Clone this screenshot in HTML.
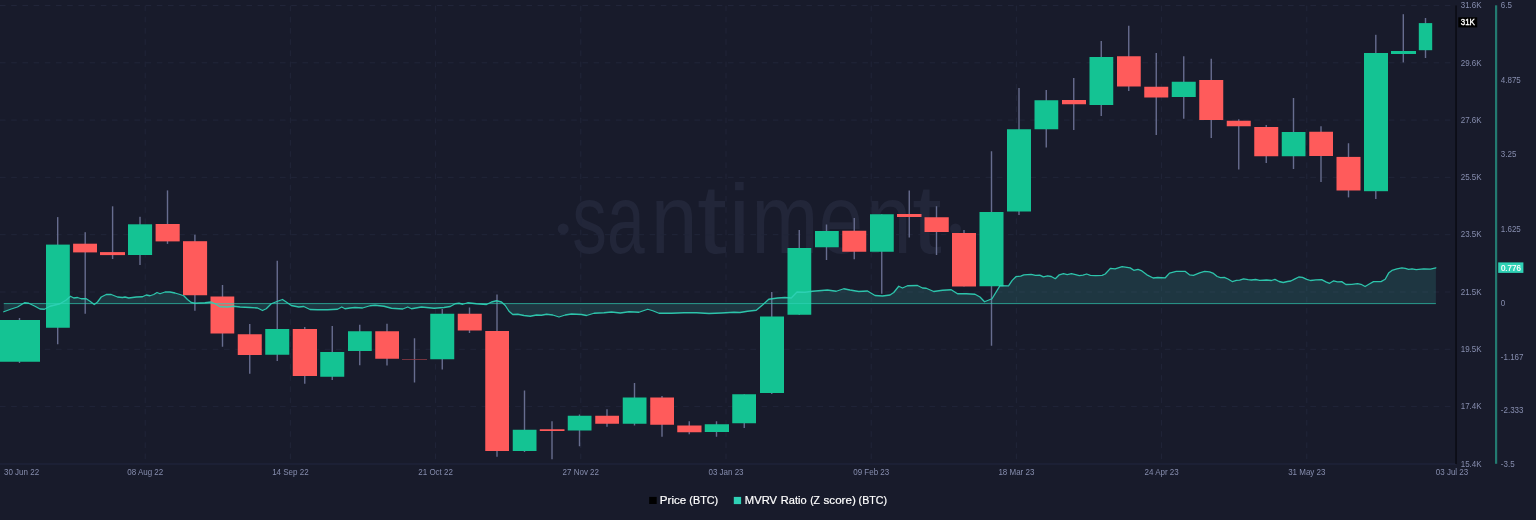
<!DOCTYPE html>
<html lang="en">
<head>
<meta charset="utf-8">
<title>Price (BTC) / MVRV Ratio (Z score) (BTC)</title>
<style>
html,body{margin:0;padding:0;background:#181b2b;}
body{width:1536px;height:520px;overflow:hidden;font-family:"Liberation Sans",sans-serif;}
svg{display:block;}
svg text{font-family:"Liberation Sans",sans-serif;}
.ax{font-size:8px;fill:#868dae;}
.lg{font-size:11px;fill:#ffffff;stroke:#ffffff;stroke-width:0.2px;}
</style>
</head>
<body>
<svg width="1536" height="520" viewBox="0 0 1536 520">
<rect x="0" y="0" width="1536" height="520" fill="#181b2b"/>

<g id="watermark" fill="#222639">
<circle cx="563.2" cy="228.9" r="5.5"/>
<text transform="translate(572.27 253.2) scale(0.7032 1)" font-size="98.5">s</text>
<text transform="translate(606.92 253.2) scale(0.6878 1)" font-size="98.5">a</text>
<text transform="translate(650.82 253.2) scale(0.8532 1)" font-size="98.5">n</text>
<text transform="translate(696.88 253.2) scale(1.0893 1)" font-size="98.5">t</text>
<text transform="translate(728.45 253.2) scale(0.9934 1)" font-size="98.5">i</text>
<text transform="translate(751.57 253.2) scale(0.8143 1)" font-size="98.5">m</text>
<text transform="translate(818.81 253.2) scale(0.8113 1)" font-size="98.5">e</text>
<text transform="translate(866.06 253.2) scale(0.8317 1)" font-size="98.5">n</text>
<text transform="translate(911.98 253.2) scale(1.0893 1)" font-size="98.5">t</text>
<circle cx="955.5" cy="228.9" r="5.5"/>
</g>

<g id="grid" stroke="#212539" stroke-width="1" stroke-dasharray="5.6 5.6" fill="none">
<path d="M0 5.50 H1452"/>
<path d="M0 62.80 H1452"/>
<path d="M0 120.10 H1452"/>
<path d="M0 177.40 H1452"/>
<path d="M0 234.70 H1452"/>
<path d="M0 292.00 H1452"/>
<path d="M0 349.30 H1452"/>
<path d="M0 406.60 H1452"/>
<path d="M145.20 5.6 V463.5"/>
<path d="M290.40 5.6 V463.5"/>
<path d="M435.60 5.6 V463.5"/>
<path d="M580.80 5.6 V463.5"/>
<path d="M726.00 5.6 V463.5"/>
<path d="M871.20 5.6 V463.5"/>
<path d="M1016.40 5.6 V463.5"/>
<path d="M1161.60 5.6 V463.5"/>
<path d="M1306.80 5.6 V463.5"/>
</g>

<rect x="0" y="463" width="1456" height="2" fill="#1c2035"/>
<g id="wicks" fill="#676d8f">
<rect x="18.80" y="318.00" width="1.4" height="45.00"/>
<rect x="57.00" y="217.10" width="1.4" height="127.15"/>
<rect x="84.50" y="232.20" width="1.4" height="81.55"/>
<rect x="111.90" y="206.30" width="1.4" height="52.70"/>
<rect x="139.30" y="216.80" width="1.4" height="48.20"/>
<rect x="166.80" y="190.40" width="1.4" height="53.50"/>
<rect x="194.20" y="234.70" width="1.4" height="76.05"/>
<rect x="221.80" y="285.00" width="1.4" height="61.75"/>
<rect x="249.05" y="324.00" width="1.4" height="49.75"/>
<rect x="276.55" y="260.75" width="1.4" height="100.25"/>
<rect x="304.05" y="327.00" width="1.4" height="56.75"/>
<rect x="331.55" y="326.00" width="1.4" height="54.00"/>
<rect x="359.05" y="324.75" width="1.4" height="40.50"/>
<rect x="386.30" y="323.75" width="1.4" height="41.75"/>
<rect x="413.80" y="338.25" width="1.4" height="44.25"/>
<rect x="441.55" y="309.00" width="1.4" height="60.50"/>
<rect x="468.80" y="307.50" width="1.4" height="25.50"/>
<rect x="496.30" y="294.50" width="1.4" height="162.25"/>
<rect x="523.80" y="390.50" width="1.4" height="61.50"/>
<rect x="551.30" y="421.25" width="1.4" height="38.00"/>
<rect x="578.80" y="414.50" width="1.4" height="31.75"/>
<rect x="606.30" y="409.25" width="1.4" height="17.50"/>
<rect x="633.80" y="383.00" width="1.4" height="42.50"/>
<rect x="661.30" y="396.00" width="1.4" height="40.75"/>
<rect x="688.55" y="421.25" width="1.4" height="13.00"/>
<rect x="715.80" y="421.25" width="1.4" height="15.50"/>
<rect x="743.55" y="394.25" width="1.4" height="33.75"/>
<rect x="771.05" y="292.00" width="1.4" height="102.00"/>
<rect x="798.55" y="230.00" width="1.4" height="85.00"/>
<rect x="825.80" y="224.50" width="1.4" height="35.50"/>
<rect x="853.55" y="218.00" width="1.4" height="41.25"/>
<rect x="881.05" y="214.25" width="1.4" height="79.50"/>
<rect x="908.55" y="190.50" width="1.4" height="47.00"/>
<rect x="935.80" y="206.25" width="1.4" height="48.75"/>
<rect x="963.30" y="230.00" width="1.4" height="56.50"/>
<rect x="990.80" y="151.25" width="1.4" height="194.50"/>
<rect x="1018.30" y="88.00" width="1.4" height="127.00"/>
<rect x="1045.55" y="90.00" width="1.4" height="57.50"/>
<rect x="1073.05" y="78.00" width="1.4" height="52.00"/>
<rect x="1100.55" y="41.00" width="1.4" height="75.00"/>
<rect x="1128.05" y="25.75" width="1.4" height="65.25"/>
<rect x="1155.55" y="53.00" width="1.4" height="82.00"/>
<rect x="1183.05" y="56.25" width="1.4" height="62.50"/>
<rect x="1210.55" y="58.75" width="1.4" height="79.25"/>
<rect x="1238.05" y="119.25" width="1.4" height="50.25"/>
<rect x="1265.55" y="125.00" width="1.4" height="38.00"/>
<rect x="1292.80" y="98.00" width="1.4" height="71.00"/>
<rect x="1320.30" y="126.25" width="1.4" height="55.75"/>
<rect x="1347.80" y="143.25" width="1.4" height="54.15"/>
<rect x="1375.10" y="34.80" width="1.4" height="164.20"/>
<rect x="1402.60" y="14.20" width="1.4" height="48.20"/>
<rect x="1424.80" y="18.00" width="1.4" height="40.00"/>
</g>
<g id="bodies">
<rect x="0.00" y="320.00" width="40.00" height="41.75" fill="#14c393"/>
<rect x="46.00" y="244.60" width="23.80" height="83.15" fill="#14c393"/>
<rect x="73.10" y="243.70" width="23.90" height="8.70" fill="#ff5b5b"/>
<rect x="100.00" y="252.10" width="25.00" height="3.00" fill="#ff5b5b"/>
<rect x="128.00" y="224.30" width="24.10" height="30.70" fill="#14c393"/>
<rect x="155.60" y="224.00" width="24.10" height="17.40" fill="#ff5b5b"/>
<rect x="183.00" y="241.20" width="24.10" height="54.05" fill="#ff5b5b"/>
<rect x="210.50" y="296.50" width="23.75" height="37.00" fill="#ff5b5b"/>
<rect x="237.75" y="334.25" width="24.00" height="20.75" fill="#ff5b5b"/>
<rect x="265.25" y="329.00" width="24.00" height="25.75" fill="#14c393"/>
<rect x="292.75" y="329.00" width="24.25" height="47.00" fill="#ff5b5b"/>
<rect x="320.25" y="352.00" width="24.00" height="24.75" fill="#14c393"/>
<rect x="348.00" y="331.25" width="23.75" height="19.75" fill="#14c393"/>
<rect x="375.25" y="331.25" width="23.75" height="27.50" fill="#ff5b5b"/>
<rect x="402.00" y="359.00" width="25.00" height="0.80" fill="#8c3a44"/>
<rect x="430.25" y="313.75" width="24.00" height="45.50" fill="#14c393"/>
<rect x="457.75" y="313.75" width="24.00" height="16.75" fill="#ff5b5b"/>
<rect x="485.25" y="331.00" width="23.75" height="120.00" fill="#ff5b5b"/>
<rect x="512.75" y="429.75" width="23.75" height="21.25" fill="#14c393"/>
<rect x="539.75" y="429.25" width="24.75" height="1.75" fill="#ff5b5b"/>
<rect x="567.75" y="415.75" width="23.75" height="14.75" fill="#14c393"/>
<rect x="595.25" y="415.75" width="23.75" height="8.00" fill="#ff5b5b"/>
<rect x="622.75" y="397.50" width="23.75" height="26.25" fill="#14c393"/>
<rect x="650.25" y="397.50" width="23.75" height="27.25" fill="#ff5b5b"/>
<rect x="677.25" y="425.50" width="24.25" height="6.75" fill="#ff5b5b"/>
<rect x="704.75" y="424.25" width="24.25" height="7.75" fill="#14c393"/>
<rect x="732.25" y="394.25" width="23.75" height="29.00" fill="#14c393"/>
<rect x="760.00" y="316.50" width="24.00" height="76.50" fill="#14c393"/>
<rect x="787.50" y="248.00" width="23.75" height="66.75" fill="#14c393"/>
<rect x="815.00" y="231.00" width="23.75" height="16.25" fill="#14c393"/>
<rect x="842.25" y="230.75" width="24.00" height="21.00" fill="#ff5b5b"/>
<rect x="870.00" y="214.25" width="23.75" height="37.50" fill="#14c393"/>
<rect x="897.00" y="214.00" width="24.50" height="3.00" fill="#ff5b5b"/>
<rect x="924.50" y="217.25" width="24.25" height="14.75" fill="#ff5b5b"/>
<rect x="952.00" y="233.00" width="24.00" height="53.50" fill="#ff5b5b"/>
<rect x="979.50" y="212.00" width="24.00" height="74.25" fill="#14c393"/>
<rect x="1007.00" y="129.25" width="24.00" height="82.25" fill="#14c393"/>
<rect x="1034.50" y="100.25" width="23.75" height="29.00" fill="#14c393"/>
<rect x="1062.00" y="100.00" width="24.00" height="4.25" fill="#ff5b5b"/>
<rect x="1089.50" y="57.00" width="23.75" height="48.00" fill="#14c393"/>
<rect x="1117.00" y="56.25" width="23.75" height="30.25" fill="#ff5b5b"/>
<rect x="1144.25" y="86.75" width="24.00" height="10.75" fill="#ff5b5b"/>
<rect x="1171.75" y="81.75" width="24.00" height="15.25" fill="#14c393"/>
<rect x="1199.25" y="80.00" width="24.00" height="40.00" fill="#ff5b5b"/>
<rect x="1226.75" y="120.75" width="24.00" height="5.50" fill="#ff5b5b"/>
<rect x="1254.25" y="127.00" width="24.00" height="29.25" fill="#ff5b5b"/>
<rect x="1281.75" y="132.00" width="23.75" height="24.25" fill="#14c393"/>
<rect x="1309.25" y="131.75" width="23.75" height="24.25" fill="#ff5b5b"/>
<rect x="1336.50" y="156.90" width="24.00" height="33.60" fill="#ff5b5b"/>
<rect x="1364.00" y="53.00" width="24.00" height="138.20" fill="#14c393"/>
<rect x="1391.00" y="51.00" width="25.00" height="3.00" fill="#14c393"/>
<rect x="1418.80" y="23.10" width="13.40" height="27.10" fill="#14c393"/>
</g>

<g id="mvrv">
<polygon points="3.75,303.60 3.75,311.75 11.25,309.00 17.50,307.00 24.50,302.75 28.75,303.25 35.00,306.25 40.00,309.00 44.50,309.25 50.00,306.25 60.00,303.75 66.25,300.00 70.50,296.25 73.75,298.00 77.50,297.50 81.25,298.75 86.25,298.75 90.00,301.25 94.25,304.50 97.50,302.00 101.25,297.00 106.25,294.50 111.25,294.50 117.50,297.00 122.50,297.50 125.00,297.00 128.75,298.00 136.25,297.00 142.50,296.75 146.25,295.00 150.00,295.75 153.75,294.50 157.00,292.50 160.00,293.75 165.00,292.00 170.00,292.00 175.00,293.00 180.00,294.50 183.75,295.75 187.50,299.50 191.25,302.50 195.00,303.25 205.00,302.75 211.25,302.00 215.00,303.75 220.00,306.75 227.50,307.00 233.75,306.25 240.00,307.00 250.00,307.50 257.50,308.00 262.50,310.50 266.25,308.75 271.25,303.75 277.50,301.25 282.50,299.50 286.25,302.00 291.25,305.50 298.75,307.00 303.75,306.50 310.00,309.50 317.50,309.75 327.50,309.75 337.50,309.25 341.75,307.00 345.00,308.75 350.00,308.00 355.00,307.50 362.50,308.00 370.00,305.75 375.00,305.25 384.00,306.25 391.50,308.25 402.75,309.00 407.75,307.00 411.50,308.75 421.50,307.00 434.00,308.25 444.00,307.50 450.25,306.50 455.25,303.75 459.00,303.25 462.75,304.25 467.75,302.75 476.50,303.75 486.50,304.50 491.50,302.00 496.50,300.75 501.50,302.00 505.25,305.50 509.00,311.25 512.75,314.50 517.75,314.25 524.00,315.50 530.25,316.25 536.50,315.00 541.50,315.25 546.50,314.25 552.75,315.00 559.00,317.00 565.25,315.00 571.50,314.00 581.50,314.50 586.50,315.50 594.00,313.25 604.00,312.75 611.50,312.00 620.25,313.00 629.00,311.75 639.00,312.25 647.75,309.25 652.75,310.75 659.00,313.25 671.50,313.25 684.00,312.75 696.50,312.75 709.00,313.50 721.50,313.00 734.00,312.25 740.00,312.50 747.50,311.25 756.25,310.25 762.50,305.00 768.75,299.25 777.50,298.00 785.00,297.50 791.25,298.00 797.00,292.00 805.00,292.25 812.50,291.25 827.50,290.00 836.25,291.25 843.75,288.75 850.00,290.00 858.75,291.50 867.50,291.00 875.00,295.50 882.50,296.00 890.00,295.00 893.75,292.50 898.75,286.25 902.50,288.00 907.50,285.75 917.50,285.50 922.50,288.00 926.25,288.25 933.75,291.50 942.50,290.25 951.25,289.75 957.50,293.75 966.25,293.75 975.00,294.25 980.00,297.00 984.50,301.75 992.00,298.75 1000.00,285.70 1008.50,285.90 1012.20,280.40 1015.90,276.70 1020.70,276.10 1023.80,274.90 1031.20,274.30 1035.50,275.30 1039.70,275.10 1043.40,276.90 1047.60,275.80 1051.30,276.50 1055.30,278.70 1059.30,274.80 1063.50,273.70 1067.20,274.60 1071.40,273.60 1075.60,274.60 1079.30,275.60 1083.00,275.10 1086.70,274.00 1090.40,275.30 1095.70,275.60 1102.10,275.40 1105.20,274.00 1110.40,268.40 1115.10,268.80 1122.10,266.70 1130.20,267.90 1133.80,270.30 1138.00,269.40 1141.90,270.90 1146.90,274.80 1153.20,278.00 1157.80,277.50 1165.30,277.80 1169.50,273.10 1176.20,271.40 1185.00,271.30 1189.50,274.80 1193.40,275.30 1199.60,272.80 1204.60,271.40 1209.60,271.90 1213.50,273.40 1217.20,276.50 1220.50,277.60 1224.30,277.30 1228.00,279.00 1232.20,281.50 1236.40,280.30 1239.70,280.10 1243.60,278.80 1248.10,279.60 1251.50,280.00 1255.60,279.50 1259.80,280.30 1266.50,280.00 1271.50,280.50 1274.90,279.30 1279.10,281.50 1283.20,282.50 1287.40,281.50 1290.80,281.00 1295.00,278.80 1298.80,277.00 1302.50,277.30 1306.70,279.30 1310.50,280.50 1315.90,279.80 1321.70,279.60 1325.90,281.80 1329.60,283.30 1333.70,280.80 1337.50,281.80 1341.70,281.60 1345.90,284.50 1351.70,284.30 1357.60,283.60 1361.00,284.30 1365.10,286.50 1369.30,284.00 1373.50,281.60 1381.00,281.60 1385.20,279.30 1388.60,273.10 1391.90,270.40 1396.90,268.90 1401.90,267.90 1405.30,268.30 1408.60,269.40 1412.00,268.80 1416.20,269.60 1423.70,268.80 1430.40,269.10 1435.90,267.80 1435.90,303.60" fill="#40beb4" fill-opacity="0.17"/>
<path d="M3.75 303.60 H1435.90" stroke="#2fd1b5" stroke-opacity="0.68" stroke-width="1" fill="none"/>
<polyline points="3.75,311.75 11.25,309.00 17.50,307.00 24.50,302.75 28.75,303.25 35.00,306.25 40.00,309.00 44.50,309.25 50.00,306.25 60.00,303.75 66.25,300.00 70.50,296.25 73.75,298.00 77.50,297.50 81.25,298.75 86.25,298.75 90.00,301.25 94.25,304.50 97.50,302.00 101.25,297.00 106.25,294.50 111.25,294.50 117.50,297.00 122.50,297.50 125.00,297.00 128.75,298.00 136.25,297.00 142.50,296.75 146.25,295.00 150.00,295.75 153.75,294.50 157.00,292.50 160.00,293.75 165.00,292.00 170.00,292.00 175.00,293.00 180.00,294.50 183.75,295.75 187.50,299.50 191.25,302.50 195.00,303.25 205.00,302.75 211.25,302.00 215.00,303.75 220.00,306.75 227.50,307.00 233.75,306.25 240.00,307.00 250.00,307.50 257.50,308.00 262.50,310.50 266.25,308.75 271.25,303.75 277.50,301.25 282.50,299.50 286.25,302.00 291.25,305.50 298.75,307.00 303.75,306.50 310.00,309.50 317.50,309.75 327.50,309.75 337.50,309.25 341.75,307.00 345.00,308.75 350.00,308.00 355.00,307.50 362.50,308.00 370.00,305.75 375.00,305.25 384.00,306.25 391.50,308.25 402.75,309.00 407.75,307.00 411.50,308.75 421.50,307.00 434.00,308.25 444.00,307.50 450.25,306.50 455.25,303.75 459.00,303.25 462.75,304.25 467.75,302.75 476.50,303.75 486.50,304.50 491.50,302.00 496.50,300.75 501.50,302.00 505.25,305.50 509.00,311.25 512.75,314.50 517.75,314.25 524.00,315.50 530.25,316.25 536.50,315.00 541.50,315.25 546.50,314.25 552.75,315.00 559.00,317.00 565.25,315.00 571.50,314.00 581.50,314.50 586.50,315.50 594.00,313.25 604.00,312.75 611.50,312.00 620.25,313.00 629.00,311.75 639.00,312.25 647.75,309.25 652.75,310.75 659.00,313.25 671.50,313.25 684.00,312.75 696.50,312.75 709.00,313.50 721.50,313.00 734.00,312.25 740.00,312.50 747.50,311.25 756.25,310.25 762.50,305.00 768.75,299.25 777.50,298.00 785.00,297.50 791.25,298.00 797.00,292.00 805.00,292.25 812.50,291.25 827.50,290.00 836.25,291.25 843.75,288.75 850.00,290.00 858.75,291.50 867.50,291.00 875.00,295.50 882.50,296.00 890.00,295.00 893.75,292.50 898.75,286.25 902.50,288.00 907.50,285.75 917.50,285.50 922.50,288.00 926.25,288.25 933.75,291.50 942.50,290.25 951.25,289.75 957.50,293.75 966.25,293.75 975.00,294.25 980.00,297.00 984.50,301.75 992.00,298.75 1000.00,285.70 1008.50,285.90 1012.20,280.40 1015.90,276.70 1020.70,276.10 1023.80,274.90 1031.20,274.30 1035.50,275.30 1039.70,275.10 1043.40,276.90 1047.60,275.80 1051.30,276.50 1055.30,278.70 1059.30,274.80 1063.50,273.70 1067.20,274.60 1071.40,273.60 1075.60,274.60 1079.30,275.60 1083.00,275.10 1086.70,274.00 1090.40,275.30 1095.70,275.60 1102.10,275.40 1105.20,274.00 1110.40,268.40 1115.10,268.80 1122.10,266.70 1130.20,267.90 1133.80,270.30 1138.00,269.40 1141.90,270.90 1146.90,274.80 1153.20,278.00 1157.80,277.50 1165.30,277.80 1169.50,273.10 1176.20,271.40 1185.00,271.30 1189.50,274.80 1193.40,275.30 1199.60,272.80 1204.60,271.40 1209.60,271.90 1213.50,273.40 1217.20,276.50 1220.50,277.60 1224.30,277.30 1228.00,279.00 1232.20,281.50 1236.40,280.30 1239.70,280.10 1243.60,278.80 1248.10,279.60 1251.50,280.00 1255.60,279.50 1259.80,280.30 1266.50,280.00 1271.50,280.50 1274.90,279.30 1279.10,281.50 1283.20,282.50 1287.40,281.50 1290.80,281.00 1295.00,278.80 1298.80,277.00 1302.50,277.30 1306.70,279.30 1310.50,280.50 1315.90,279.80 1321.70,279.60 1325.90,281.80 1329.60,283.30 1333.70,280.80 1337.50,281.80 1341.70,281.60 1345.90,284.50 1351.70,284.30 1357.60,283.60 1361.00,284.30 1365.10,286.50 1369.30,284.00 1373.50,281.60 1381.00,281.60 1385.20,279.30 1388.60,273.10 1391.90,270.40 1396.90,268.90 1401.90,267.90 1405.30,268.30 1408.60,269.40 1412.00,268.80 1416.20,269.60 1423.70,268.80 1430.40,269.10 1435.90,267.80" fill="none" stroke="#2fd1b5" stroke-opacity="0.92" stroke-width="1.3" stroke-linejoin="round" stroke-linecap="round"/>
</g>

<rect x="1455.2" y="5.5" width="1.7" height="458.5" fill="#0c0d16"/>
<rect x="1495" y="5.3" width="2.2" height="458.5" fill="#237a70"/>
<g class="ax">
<text transform="translate(1460.70 8.20) scale(1 1.200)">31.6K</text>
<text transform="translate(1460.70 65.50) scale(1 1.200)">29.6K</text>
<text transform="translate(1460.70 122.80) scale(1 1.200)">27.6K</text>
<text transform="translate(1460.70 180.10) scale(1 1.200)">25.5K</text>
<text transform="translate(1460.70 237.40) scale(1 1.200)">23.5K</text>
<text transform="translate(1460.70 294.70) scale(1 1.200)">21.5K</text>
<text transform="translate(1460.70 352.00) scale(1 1.200)">19.5K</text>
<text transform="translate(1460.70 409.30) scale(1 1.200)">17.4K</text>
<text transform="translate(1460.70 466.60) scale(1 1.200)">15.4K</text>
<text transform="translate(1500.80 8.10) scale(1 1.200)">6.5</text>
<text transform="translate(1500.80 82.90) scale(1 1.200)">4.875</text>
<text transform="translate(1500.80 157.40) scale(1 1.200)">3.25</text>
<text transform="translate(1500.80 231.90) scale(1 1.200)">1.625</text>
<text transform="translate(1500.80 306.30) scale(1 1.200)">0</text>
<text transform="translate(1500.80 359.90) scale(1 1.200)">-1.167</text>
<text transform="translate(1500.80 413.20) scale(1 1.200)">-2.333</text>
<text transform="translate(1500.80 466.50) scale(1 1.200)">-3.5</text>
<text transform="translate(4.00 474.70) scale(1 1.200)">30 Jun 22</text>
<text transform="translate(145.20 474.70) scale(1 1.200)" text-anchor="middle">08 Aug 22</text>
<text transform="translate(290.40 474.70) scale(1 1.200)" text-anchor="middle">14 Sep 22</text>
<text transform="translate(435.60 474.70) scale(1 1.200)" text-anchor="middle">21 Oct 22</text>
<text transform="translate(580.80 474.70) scale(1 1.200)" text-anchor="middle">27 Nov 22</text>
<text transform="translate(726.00 474.70) scale(1 1.200)" text-anchor="middle">03 Jan 23</text>
<text transform="translate(871.20 474.70) scale(1 1.200)" text-anchor="middle">09 Feb 23</text>
<text transform="translate(1016.40 474.70) scale(1 1.200)" text-anchor="middle">18 Mar 23</text>
<text transform="translate(1161.60 474.70) scale(1 1.200)" text-anchor="middle">24 Apr 23</text>
<text transform="translate(1306.80 474.70) scale(1 1.200)" text-anchor="middle">31 May 23</text>
<text transform="translate(1452.00 474.70) scale(1 1.200)" text-anchor="middle">03 Jul 23</text>
</g>

<rect x="1458.3" y="17.3" width="18.9" height="10.1" fill="#000000"/>
<text transform="translate(1460.70 25.40) scale(1 1.200)" font-size="8" fill="#ffffff" stroke="#ffffff" stroke-width="0.3">31K</text>
<rect x="1498.2" y="262.4" width="25.2" height="10.5" fill="#2fd1b5"/>
<text transform="translate(1500.90 270.70) scale(1 1.200)" font-size="8" fill="#ffffff" stroke="#ffffff" stroke-width="0.2">0.776</text>
<rect x="649.2" y="496.9" width="7.5" height="7.1" fill="#000000"/>
<rect x="733.8" y="496.9" width="7.3" height="7.2" fill="#2fd1b5"/>
<g class="lg">
<text transform="translate(659.85 504.15) scale(1.0549 1.04)">Price</text>
<text transform="translate(689.31 504.15) scale(0.9857 1.04)">(BTC)</text>
<text transform="translate(744.78 504.15) scale(1.0229 1.04)">MVRV</text>
<text transform="translate(780.80 504.15) scale(1.0041 1.04)">Ratio</text>
<text transform="translate(810.14 504.15) scale(0.9468 1.04)">(Z</text>
<text transform="translate(823.58 504.15) scale(1.0541 1.04)">score)</text>
<text transform="translate(858.62 504.15) scale(0.9679 1.04)">(BTC)</text>
</g>
</svg>
</body>
</html>
